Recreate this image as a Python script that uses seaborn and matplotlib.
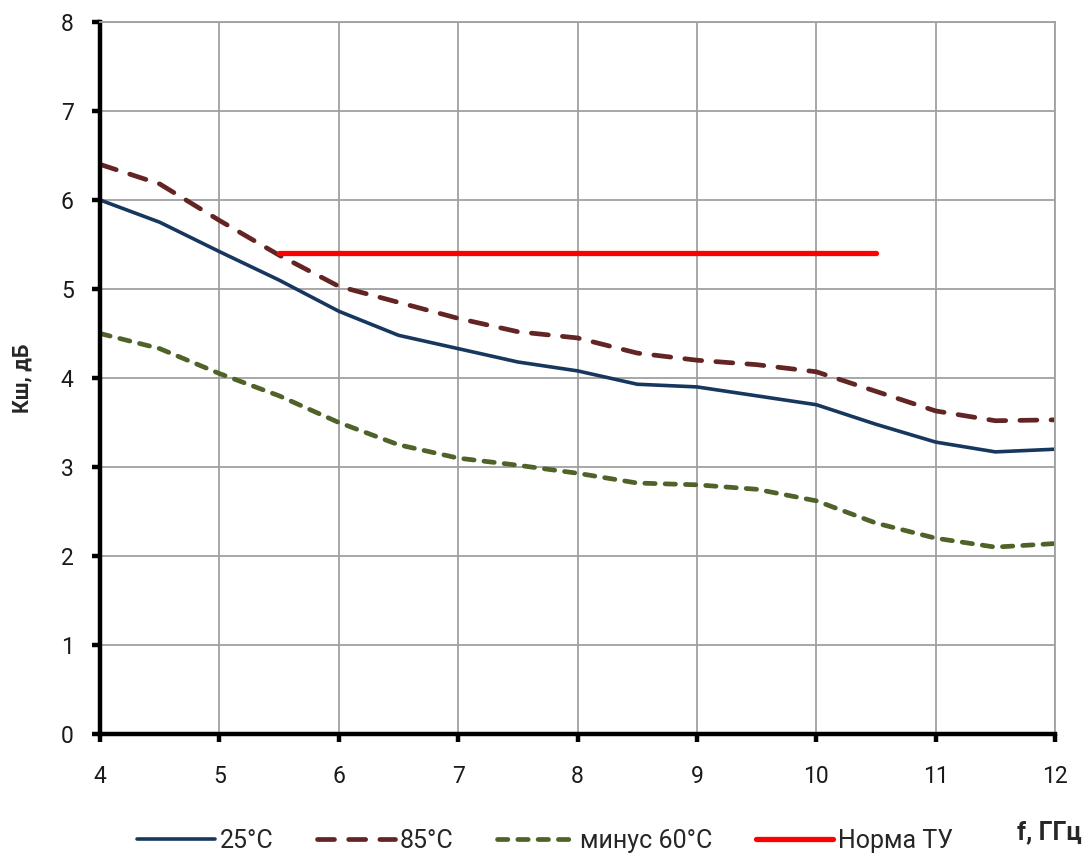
import matplotlib
matplotlib.use("Agg")
import matplotlib.pyplot as plt
import seaborn as sns
import pandas as pd

freq = [4, 4.5, 5, 5.5, 6, 6.5, 7, 7.5, 8, 8.5, 9, 9.5, 10, 10.5, 11, 11.5, 12]
t25 = [6.0, 5.75, 5.42, 5.1, 4.75, 4.48, 4.33, 4.18, 4.08, 3.93, 3.9, 3.8, 3.7, 3.48, 3.28, 3.17, 3.2]
t85 = [6.4, 6.18, 5.77, 5.38, 5.03, 4.85, 4.67, 4.52, 4.45, 4.28, 4.2, 4.15, 4.07, 3.85, 3.63, 3.52, 3.53]
tm60 = [4.5, 4.33, 4.05, 3.8, 3.5, 3.25, 3.1, 3.02, 2.93, 2.82, 2.8, 2.75, 2.62, 2.37, 2.2, 2.1, 2.14]
norm_f = [5.5, 10.5]
norm_v = [5.4, 5.4]

labels = ["25°C", "85°C", "минус 60°C", "Норма ТУ"]
x_ticks = [4, 5, 6, 7, 8, 9, 10, 11, 12]
y_ticks = [0, 1, 2, 3, 4, 5, 6, 7, 8]

sns.set_theme(style="white")
plt.rcParams['font.family'] = ['Roboto', 'DejaVu Sans']

fig = plt.figure(figsize=(10.88, 8.56), dpi=100)
ax = fig.add_axes([0.092, 0.1425, 0.8777, 0.8318])

df25 = pd.DataFrame({"f": freq, "v": t25})
df85 = pd.DataFrame({"f": freq, "v": t85})
dfm60 = pd.DataFrame({"f": freq, "v": tm60})
dfn = pd.DataFrame({"f": norm_f, "v": norm_v})

sns.lineplot(data=df25, x="f", y="v", ax=ax, color="#17375E", lw=2.6, label=labels[0])
sns.lineplot(data=df85, x="f", y="v", ax=ax, color="#632523", lw=3.4, label=labels[1])
sns.lineplot(data=dfm60, x="f", y="v", ax=ax, color="#4F6228", lw=3.4, label=labels[2])
sns.lineplot(data=dfn, x="f", y="v", ax=ax, color="#FF0000", lw=3.8, label=labels[3])

lines = ax.get_lines()
lines[1].set_dashes([3.6, 3.0])
lines[1].set_dash_capstyle("round")
lines[2].set_dashes([2.2, 2.1])
lines[2].set_dash_capstyle("round")
lines[3].set_solid_capstyle("round")

ax.set_xlim(4, 12)
ax.set_ylim(0, 8)
ax.set_xticks(x_ticks)
ax.set_yticks(y_ticks)
ax.set_xticklabels([str(t) for t in x_ticks])
ax.set_yticklabels([str(t) for t in y_ticks])
ax.grid(True, color="#A0A0A0", lw=1.3)
ax.set_axisbelow(True)

for s in ["top", "right"]:
    ax.spines[s].set_color("#A0A0A0")
    ax.spines[s].set_linewidth(1.3)
for s in ["left", "bottom"]:
    ax.spines[s].set_color("black")
    ax.spines[s].set_linewidth(3.2)

ax.tick_params(axis="both", which="major", direction="out", length=6, width=3.2,
               color="black", bottom=True, left=True, labelsize=16.5,
               labelcolor="#1a1a1a")
ax.tick_params(axis="x", pad=16)
ax.tick_params(axis="y", pad=13)

ax.set_xlabel("")
ax.set_ylabel("Кш, дБ", fontsize=15.5, fontweight="bold", labelpad=20)
fig.text(1049 / 1088, 1 - 832 / 856, "f, ГГц", fontsize=18, fontweight="bold",
         ha="center", va="center")

leg = ax.legend(loc="center left", bbox_to_anchor=(137 / 1088, 1 - 841 / 856),
                bbox_transform=fig.transFigure, ncol=4, frameon=False,
                prop={"size": 18},
                handlelength=3.1, columnspacing=1.75, handletextpad=0.2,
                borderpad=0, borderaxespad=0)

fig.savefig("out.png", dpi=100)
